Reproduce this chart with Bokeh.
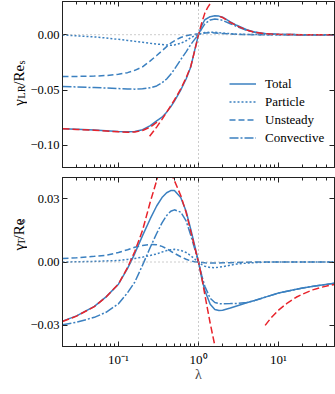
import numpy as np
from bokeh.plotting import figure
from bokeh.layouts import column, row
from bokeh.core.properties import value
from bokeh.models import (LogAxis, LinearAxis, FixedTicker, Span, Legend,
                          LegendItem, Range1d)
from bokeh.embed import file_html
from bokeh.resources import INLINE

# ---------------- data ----------------
lam = [0.02, 0.03, 0.05, 0.07, 0.1, 0.13, 0.16, 0.2, 0.25, 0.3, 0.35, 0.4,
       0.45, 0.5, 0.6, 0.7, 0.8, 0.9, 1.0, 1.1, 1.2, 1.4, 1.6, 1.8, 2.0, 2.5,
       3.0, 4.0, 5.0, 7.0, 10.0, 15.0, 20.0, 30.0, 50.0]

top_total = [-0.0850, -0.0855, -0.0862, -0.0868, -0.0875, -0.0878, -0.0874,
             -0.0858, -0.0822, -0.0778, -0.0745, -0.0700, -0.0652, -0.0600,
             -0.0500, -0.0400, -0.0292, -0.0135, 0.0, 0.0085, 0.0135, 0.0163,
             0.0171, 0.0168, 0.0158, 0.0115, 0.0085, 0.0045, 0.0024, 0.0009,
             0.0003, 0.0001, 0.0, 0.0, 0.0]
top_particle = [-0.0003, -0.0010, -0.0020, -0.0030, -0.0042, -0.0052, -0.0060,
                -0.0068, -0.0077, -0.0084, -0.0089, -0.0093, -0.0095, -0.0093,
                -0.0078, -0.0055, -0.0027, -0.0008, 0.0, 0.0012, 0.0019, 0.0023,
                0.0023, 0.0019, 0.0015, 0.0009, 0.0005, 0.0002, 0.0001, 0.0,
                0.0, 0.0, 0.0, 0.0, 0.0]
top_unsteady = [-0.0378, -0.0377, -0.0374, -0.0369, -0.0358, -0.0343, -0.0322,
                -0.0290, -0.0236, -0.0188, -0.0145, -0.0108, -0.0077, -0.0055,
                -0.0025, -0.0010, -0.0001, 0.0004, 0.0008, 0.0012, 0.0015,
                0.0017, 0.0016, 0.0014, 0.0011, 0.0006, 0.0003, 0.0001, 0.0,
                0.0, 0.0, 0.0, 0.0, 0.0, 0.0]
top_convective = [-0.0467, -0.0472, -0.0478, -0.0482, -0.0487, -0.0490, -0.0492,
                  -0.0489, -0.0479, -0.0463, -0.0435, -0.0400, -0.0358, -0.0312,
                  -0.0225, -0.0155, -0.0089, -0.0040, 0.0, 0.0055, 0.0098,
                  0.0133, 0.0142, 0.0138, 0.0129, 0.0099, 0.0075, 0.0040,
                  0.0022, 0.0008, 0.0003, 0.0001, 0.0, 0.0, 0.0]

bot_total = [-0.0280, -0.0255, -0.0210, -0.0165, -0.0105, -0.0030, 0.0040,
             0.0125, 0.0205, 0.0265, 0.0305, 0.0328, 0.0338, 0.0338, 0.0305,
             0.0240, 0.0155, 0.0075, 0.0, -0.0078, -0.0135, -0.0200, -0.0225,
             -0.0230, -0.0228, -0.0218, -0.0208, -0.0193, -0.0182, -0.0165,
             -0.0147, -0.0133, -0.0123, -0.0112, -0.0101]
bot_particle = [0.0, 0.0001, 0.0003, 0.0005, 0.0007, 0.0012, 0.0017, 0.0023,
                0.0031, 0.0038, 0.0047, 0.0054, 0.0058, 0.0060, 0.0055, 0.0045,
                0.0030, 0.0014, 0.0, -0.0012, -0.0020, -0.0026, -0.0027,
                -0.0025, -0.0022, -0.0015, -0.0010, -0.0005, -0.0003, -0.0001,
                0.0, 0.0, 0.0, 0.0, 0.0]
bot_unsteady = [0.0016, 0.0020, 0.0027, 0.0032, 0.0045, 0.0058, 0.0070, 0.0078,
                0.0083, 0.0082, 0.0074, 0.0063, 0.0051, 0.0041, 0.0025, 0.0013,
                0.0005, 0.0001, 0.0, -0.0002, -0.0004, -0.0005, -0.0005,
                -0.0005, -0.0004, -0.0003, -0.0002, -0.0001, 0.0, 0.0, 0.0,
                0.0, 0.0, 0.0, 0.0]
bot_convective = [-0.0297, -0.0285, -0.0262, -0.0238, -0.0198, -0.0145, -0.0095,
                  -0.0015, 0.0070, 0.0135, 0.0185, 0.0220, 0.0240, 0.0247,
                  0.0236, 0.0195, 0.0127, 0.0060, 0.0, -0.0065, -0.0115,
                  -0.0172, -0.0192, -0.0197, -0.0198, -0.0197, -0.0196,
                  -0.0192, -0.0183, -0.0165, -0.0147, -0.0133, -0.0123,
                  -0.0112, -0.0101]

# asymptotic expansions (red dashed)
lam_small_top = [0.02, 0.03, 0.05, 0.07, 0.1, 0.13, 0.16, 0.2, 0.25, 0.31]
asym_small_top = [-0.0850, -0.0856, -0.0863, -0.0870, -0.0877, -0.0881,
                  -0.0879, -0.0866, -0.0834, -0.0785]
lam_mid_top = [0.245, 0.3, 0.35, 0.4, 0.5, 0.6, 0.7, 0.8, 0.9, 1.0, 1.1, 1.2,
               1.3, 1.4, 1.5]
asym_mid_top = [-0.0918, -0.0835, -0.0765, -0.0700, -0.0590, -0.0490, -0.0390,
                -0.0287, -0.0140, 0.0, 0.0110, 0.0195, 0.0245, 0.0280, 0.0310]
lam_large_top = [1.85, 2.0, 2.5, 3.0, 4.0, 5.0, 7.0, 10.0, 15.0, 20.0, 30.0, 50.0]
asym_large_top = [0.0163, 0.0155, 0.0112, 0.0081, 0.0042, 0.0022, 0.0008,
                  0.0003, 0.0001, 0.0, 0.0, 0.0]

lam_small_bot = [0.02, 0.03, 0.05, 0.07, 0.1, 0.13, 0.16, 0.2, 0.25, 0.3, 0.33]
asym_small_bot = [-0.0282, -0.0256, -0.0211, -0.0166, -0.0104, -0.0026,
                  0.0050, 0.0150, 0.0285, 0.0385, 0.0450]
lam_mid_bot = [0.45, 0.5, 0.6, 0.7, 0.8, 0.9, 1.0, 1.1, 1.2, 1.3, 1.4, 1.5, 1.65]
asym_mid_bot = [0.0425, 0.0385, 0.0315, 0.0235, 0.0145, 0.0068, 0.0, -0.0075,
                -0.0155, -0.0225, -0.0290, -0.0345, -0.0420]
lam_large_bot = [6.8, 8.0, 10.0, 13.0, 16.6, 20.0, 26.7, 35.0, 44.0, 50.0]
asym_large_bot = [-0.0300, -0.0266, -0.0228, -0.0193, -0.0167, -0.0152,
                  -0.0132, -0.0119, -0.0110, -0.0106]

x_major = [0.1, 1.0, 10.0]
x_major_labels = ["10⁻¹", "10⁰", "10¹"]
x_minor = [0.02, 0.03, 0.04, 0.05, 0.06, 0.07, 0.08, 0.09,
           0.2, 0.3, 0.4, 0.5, 0.6, 0.7, 0.8, 0.9,
           2, 3, 4, 5, 6, 7, 8, 9, 20, 30, 40, 50]
top_yticks = [-0.10, -0.05, 0.0]
top_ylabels = ["−0.10", "−0.05", "0.00"]
bot_yticks = [-0.03, 0.0, 0.03]
bot_ylabels = ["−0.03", "0.00", "0.03"]

legend_labels = ["Total", "Particle", "Unsteady", "Convective"]
top_ylabel_parts = ["γ", "LR", "/Re", "s"]
bot_ylabel_parts = ["γ", "T", "/Re", "s"]

# ---------------- styling ----------------
BLUE = "#3b80c0"
RED = "#e8232b"
FONT = "Liberation Serif"
AX = "#222222"
DASHES = ["solid", "2 2", "6 3", "9 2 2 2"]
X_LO, X_HI = 0.02, 50
LAB_W = 27          # width of the strip holding the rotated y labels
TICK_FS = "12.5px"


def make_fig(yr, height, border_top, border_bottom, xr):
    p = figure(x_axis_type="log", x_range=xr, y_range=Range1d(*yr),
               width=335 - LAB_W, height=height,
               min_border_left=60 - LAB_W, min_border_right=1,
               min_border_top=border_top, min_border_bottom=border_bottom,
               output_backend="svg", toolbar_location=None)
    p.xgrid.visible = False
    p.ygrid.visible = False
    p.outline_line_color = AX
    p.outline_line_width = 1
    p.background_fill_color = "white"
    p.border_fill_color = "white"
    return p


def style_x(ax, labels=True):
    ax.ticker = FixedTicker(ticks=x_major, minor_ticks=x_minor)
    ax.axis_line_color = AX
    ax.major_tick_line_color = AX
    ax.minor_tick_line_color = AX
    ax.major_tick_in = 5
    ax.major_tick_out = 0
    ax.minor_tick_in = 3
    ax.minor_tick_out = 0
    if labels:
        ax.major_label_overrides = dict(zip(x_major, x_major_labels))
        ax.major_label_text_font = FONT
        ax.major_label_text_font_size = "13px"
        ax.major_label_text_color = "black"
        ax.major_label_standoff = 5
    else:
        ax.major_label_text_font_size = "1px"
        ax.major_label_text_alpha = 0
        ax.major_label_standoff = 0


def style_y(ax, ticks, labels, show=True):
    ax.ticker = FixedTicker(ticks=ticks)
    ax.axis_line_color = AX
    ax.major_tick_line_color = AX
    ax.minor_tick_line_color = None
    ax.major_tick_in = 5
    ax.major_tick_out = 0
    if show:
        ax.major_label_overrides = dict(zip(ticks, labels))
        ax.major_label_text_font = FONT
        ax.major_label_text_font_size = TICK_FS
        ax.major_label_text_color = "black"
        ax.major_label_standoff = 3
    else:
        ax.major_label_text_font_size = "1px"
        ax.major_label_text_alpha = 0
        ax.major_label_standoff = 0


def add_ref_lines(p):
    p.add_layout(Span(location=0, dimension="width", line_color="#999999",
                      line_dash="1 3", line_width=1))
    p.add_layout(Span(location=1, dimension="height", line_color="#999999",
                      line_dash="1 3", line_width=1))


def label_strip(height, center_from_top, parts, sizes, widths, subs):
    """Narrow figure holding a rotated axis label with subscripts."""
    q = figure(width=LAB_W, height=height, x_range=Range1d(0, LAB_W),
               y_range=Range1d(0, height), min_border=0,
               output_backend="svg", toolbar_location=None)
    q.axis.visible = False
    q.grid.visible = False
    q.outline_line_color = None
    q.border_fill_color = "white"
    q.background_fill_color = "white"
    total = sum(widths)
    y = (height - center_from_top) - total / 2
    for text, size, w, sub in zip(parts, sizes, widths, subs):
        q.text(x=[18 + (3 if sub else 0)], y=[y], text=[text], angle=np.pi / 2,
               text_font=value(FONT), text_font_size=value(f"{size}px"),
               text_baseline="alphabetic", text_align="left",
               text_color="black")
        y += w
    return q


xr = Range1d(X_LO, X_HI)

# ---------------- top panel ----------------
p1 = make_fig((-0.12, 0.03), 171, 1, 4, xr)
p1.add_layout(LogAxis(), "above")
p1.add_layout(LinearAxis(), "right")
for ax in p1.below + p1.above:
    style_x(ax, labels=False)
style_y(p1.left[0], top_yticks, top_ylabels, True)
style_y(p1.right[0], top_yticks, top_ylabels, False)
add_ref_lines(p1)

rends = []
for ys, dash in zip([top_total, top_particle, top_unsteady, top_convective], DASHES):
    rends.append(p1.line(lam, ys, line_color=BLUE, line_width=1.5, line_dash=dash))
for lx, ly in [(lam_small_top, asym_small_top), (lam_mid_top, asym_mid_top),
               (lam_large_top, asym_large_top)]:
    p1.line(lx, ly, line_color=RED, line_width=1.5, line_dash="7 3")

legend = Legend(items=[LegendItem(label=t, renderers=[r]) for t, r in zip(legend_labels, rends)],
                location=(167, 21), background_fill_alpha=0,
                border_line_color=None, padding=0, margin=0, spacing=1,
                glyph_width=27, glyph_height=17, label_height=17,
                label_standoff=9, label_text_font=FONT,
                label_text_font_size="13px", label_text_color="black")
p1.add_layout(legend)
lab1 = label_strip(171, 84, top_ylabel_parts, [15, 10.5, 15, 10.5],
                   [7.2, 13.4, 21.8, 4.2], [False, True, False, True])

# ---------------- bottom panel ----------------
p2 = make_fig((-0.04, 0.04), 223, 6, 48, xr)
p2.add_layout(LogAxis(), "above")
p2.add_layout(LinearAxis(), "right")
for ax in p2.above:
    style_x(ax, labels=False)
for ax in p2.below:
    style_x(ax, labels=True)
    ax.axis_label = "λ"
    ax.axis_label_text_font = FONT
    ax.axis_label_text_font_size = "14px"
    ax.axis_label_text_font_style = "normal"
    ax.axis_label_standoff = -3
style_y(p2.left[0], bot_yticks, bot_ylabels, True)
style_y(p2.right[0], bot_yticks, bot_ylabels, False)
add_ref_lines(p2)

for ys, dash in zip([bot_total, bot_particle, bot_unsteady, bot_convective], DASHES):
    p2.line(lam, ys, line_color=BLUE, line_width=1.5, line_dash=dash)
for lx, ly in [(lam_small_bot, asym_small_bot), (lam_mid_bot, asym_mid_bot),
               (lam_large_bot, asym_large_bot)]:
    p2.line(lx, ly, line_color=RED, line_width=1.5, line_dash="7 3")

lab2 = label_strip(223, 76, bot_ylabel_parts, [15, 10.5, 15, 10.5],
                   [7.2, 7.2, 21.8, 4.2], [False, True, False, True])

layout = column(row(lab1, p1, spacing=0), row(lab2, p2, spacing=0), spacing=0)
open("out.html", "w").write(file_html(layout, INLINE))
